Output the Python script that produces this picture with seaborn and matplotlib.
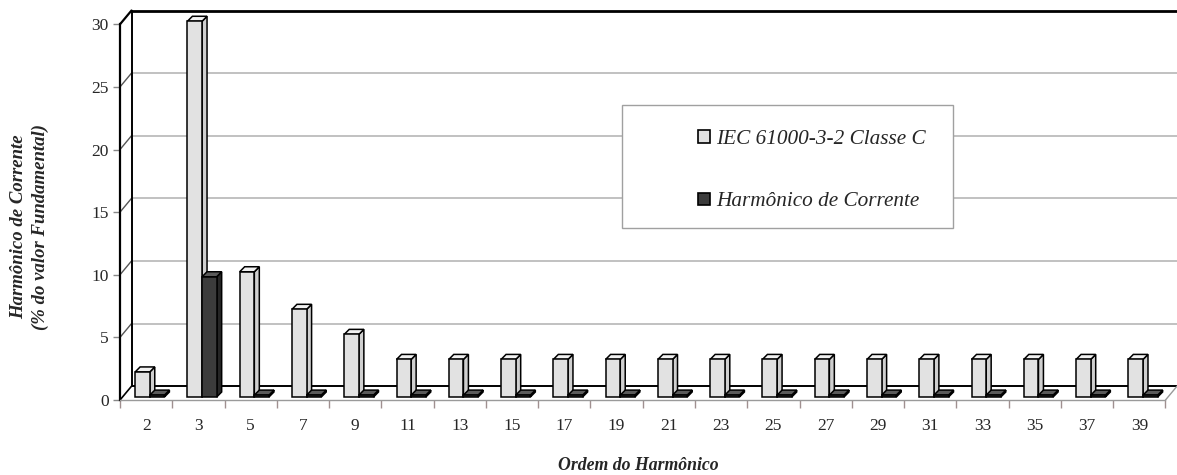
import numpy as np
import pandas as pd
import matplotlib
matplotlib.use("Agg")
import matplotlib.pyplot as plt
from matplotlib.patches import Polygon, Rectangle, Patch
import seaborn as sns

# ---- data ----
harmonics = ["2", "3", "5", "7", "9", "11", "13", "15", "17", "19",
             "21", "23", "25", "27", "29", "31", "33", "35", "37", "39"]
iec_limit = [2, 30, 10, 7, 5, 3, 3, 3, 3, 3, 3, 3, 3, 3, 3, 3, 3, 3, 3, 3]
measured = [0.15, 9.6, 0.15, 0.15, 0.15, 0.15, 0.15, 0.15, 0.15, 0.15,
            0.15, 0.15, 0.15, 0.15, 0.15, 0.15, 0.15, 0.15, 0.15, 0.15]
series = ["IEC 61000-3-2 Classe C", "Harmônico de Corrente"]
yticks = [0, 5, 10, 15, 20, 25, 30]

light, dark = "#e2e2e2", "#3c3c3c"
side_cols = {light: "#cfcfcf", dark: "#262626"}
top_cols = {light: "#f2f2f2", dark: "#5a5a5a"}

sns.set_theme(style="white")
plt.rcParams["font.family"] = ["Liberation Serif", "DejaVu Serif"]

df = pd.DataFrame({
    "Ordem": harmonics * 2,
    "Valor": iec_limit + measured,
    "Serie": [series[0]] * len(harmonics) + [series[1]] * len(harmonics),
})

fig = plt.figure(figsize=(11.77, 4.75), dpi=100)
ax = fig.add_axes([120 / 1177, 75 / 475, 1057 / 1177, 392 / 475])

n = len(harmonics)
dx, dy = 0.22, 1.1           # wall depth (data units)
bdx, bdy = 0.095, 0.40       # bar depth
shx, shy = 0.07, 0.24        # bars sit in the middle of the floor

sns.barplot(data=df, x="Ordem", y="Valor", hue="Serie", palette=[light, dark],
            width=0.56, edgecolor="black", linewidth=1.1, saturation=1,
            legend=False, ax=ax)

ax.set_xlim(-0.5, n - 0.5 + dx)
ax.set_ylim(0, 31.3)

# back wall gridlines & edges
for v in yticks[1:-1]:
    ax.plot([-0.5 + dx, n - 0.5 + dx], [v + dy, v + dy], color="#b0b0b0", lw=1.1, zorder=1)
    ax.plot([-0.5, -0.5 + dx], [v, v + dy], color="#555555", lw=1.0, zorder=1, clip_on=False)
ax.plot([-0.5 + dx, n - 0.5 + dx], [30 + dy, 30 + dy], color="black", lw=2.0, zorder=1, clip_on=False)
ax.plot([-0.5, -0.5 + dx], [30, 30 + dy], color="black", lw=1.6, zorder=1, clip_on=False)
ax.plot([-0.5 + dx, -0.5 + dx], [dy, 30 + dy], color="black", lw=1.4, zorder=1)
ax.plot([-0.5 + dx, n - 0.5 + dx], [dy, dy], color="black", lw=1.4, zorder=1)
ax.plot([-0.5, -0.5 + dx], [0, dy], color="black", lw=1.2, zorder=1, clip_on=False)
ax.plot([n - 0.5, n - 0.5 + dx], [0, dy], color="#999999", lw=1.0, zorder=1, clip_on=False)

# 3D faces for bars
for k, p in enumerate(list(ax.patches)):
    h, i = divmod(k, n)
    fc = light if h == 0 else dark
    p.set_x(p.get_x() + shx)
    p.set_y(p.get_y() + shy)
    x0, y0 = p.get_x(), p.get_y()
    w, ht = p.get_width(), p.get_height()
    z = 2 + i * 0.1 + h * 0.05
    p.set_zorder(z + 0.02)
    side = Polygon([(x0 + w, y0), (x0 + w + bdx, y0 + bdy), (x0 + w + bdx, y0 + ht + bdy), (x0 + w, y0 + ht)],
                   closed=True, facecolor=side_cols[fc], edgecolor="black", lw=1.1, zorder=z)
    top = Polygon([(x0, y0 + ht), (x0 + w, y0 + ht), (x0 + w + bdx, y0 + ht + bdy), (x0 + bdx, y0 + ht + bdy)],
                  closed=True, facecolor=top_cols[fc], edgecolor="black", lw=1.1, zorder=z + 0.01)
    ax.add_patch(side)
    ax.add_patch(top)

# spines
for s in ["top", "right"]:
    ax.spines[s].set_visible(False)
ax.spines["left"].set_bounds(0, 30)
ax.spines["left"].set_color("black")
ax.spines["left"].set_linewidth(1.6)
ax.spines["bottom"].set_bounds(-0.5, n - 0.5)
ax.spines["bottom"].set_color("#9a9a9a")
ax.spines["bottom"].set_linewidth(1.0)

ax.set_yticks(yticks)
ax.set_yticklabels([str(v) for v in yticks], fontsize=12.5)
ax.tick_params(axis="y", length=5, width=1.0, color="#888888", direction="out", pad=3, left=True)

ax.set_xticks(np.arange(-0.5, n, 1.0))
ax.set_xticklabels([])
ax.set_xticks(np.arange(n), minor=True)
ax.set_xticklabels(harmonics, minor=True, fontsize=12.5)
ax.tick_params(axis="x", which="major", length=6, width=1.0, color="#a09090", direction="out", bottom=True)
ax.tick_params(axis="x", which="minor", length=0, pad=13)

ax.set_xlabel("")
ax.set_ylabel("")
fig.text(638 / 1177, 1 - 466 / 475, "Ordem do Harmônico", ha="center", va="center",
         fontsize=12.8, fontweight="bold", fontstyle="italic")
fig.text(30 / 1177, 1 - 227 / 475, "Harmônico de Corrente\n(% do valor Fundamental)",
         rotation=90, ha="center", va="center", multialignment="center",
         fontsize=13.5, fontweight="bold", fontstyle="italic", linespacing=1.35)

# legend
ax.add_patch(Rectangle((0.475, 0.4388), 0.313, 0.314, transform=ax.transAxes,
                       facecolor="white", edgecolor="#a0a0a0", lw=1.0, zorder=50))
handles = [Patch(facecolor=light, edgecolor="black", lw=1.2),
           Patch(facecolor=dark, edgecolor="black", lw=1.2)]
leg = ax.legend(handles, series, loc="center left", bbox_to_anchor=(0.529, 0.585),
                frameon=False, handlelength=0.55, handleheight=0.55,
                handletextpad=0.3, labelspacing=2.05, prop={"style": "italic", "size": 15.3})
leg.set_zorder(60)

fig.savefig("out.png", dpi=100)
